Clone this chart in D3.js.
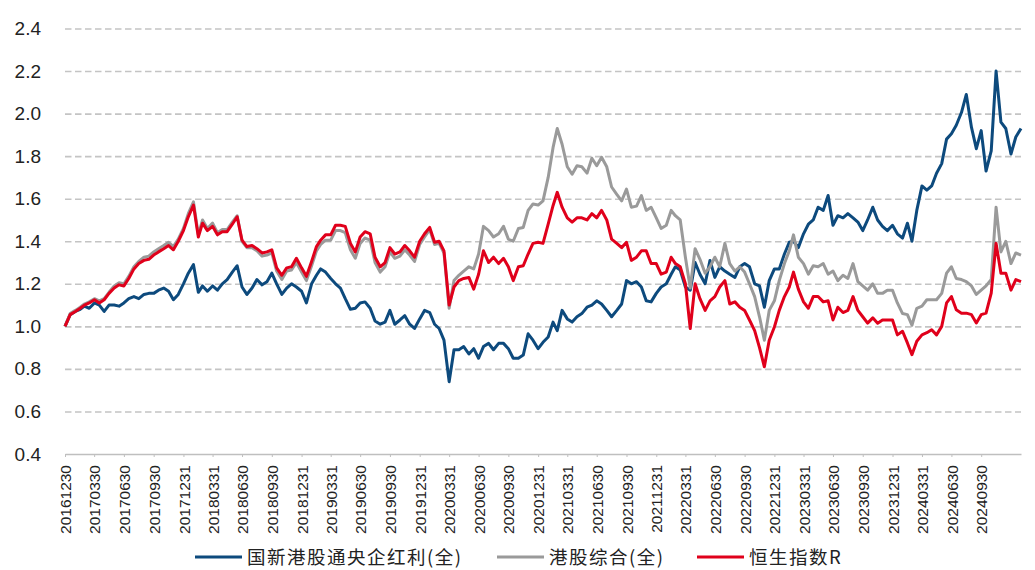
<!DOCTYPE html>
<html>
<head>
<meta charset="utf-8">
<script src="https://cdn.jsdelivr.net/npm/d3@7"></script>
<style>
body { margin: 0; background: #fff; }
svg { display: block; }
</style>
</head>
<body>
<div id="chart-area"></div>
<script>
// semi-monthly observation dates
var dates = ['20161230',
  '20170115','20170131','20170215','20170228','20170315','20170331','20170415','20170430','20170515','20170531','20170615','20170630',
  '20170715','20170731','20170815','20170831','20170915','20170930','20171015','20171031','20171115','20171130','20171215','20171231',
  '20180115','20180131','20180215','20180228','20180315','20180331','20180415','20180430','20180515','20180531','20180615','20180630',
  '20180715','20180731','20180815','20180831','20180915','20180930','20181015','20181031','20181115','20181130','20181215','20181231',
  '20190115','20190131','20190215','20190228','20190315','20190331','20190415','20190430','20190515','20190531','20190615','20190630',
  '20190715','20190731','20190815','20190831','20190915','20190930','20191015','20191031','20191115','20191130','20191215','20191231',
  '20200115','20200131','20200215','20200229','20200315','20200331','20200415','20200430','20200515','20200531','20200615','20200630',
  '20200715','20200731','20200815','20200831','20200915','20200930','20201015','20201031','20201115','20201130','20201215','20201231',
  '20210115','20210131','20210215','20210228','20210315','20210331','20210415','20210430','20210515','20210531','20210615','20210630',
  '20210715','20210731','20210815','20210831','20210915','20210930','20211015','20211031','20211115','20211130','20211215','20211231',
  '20220115','20220131','20220215','20220228','20220315','20220331','20220415','20220430','20220515','20220531','20220615','20220630',
  '20220715','20220731','20220815','20220831','20220915','20220930','20221015','20221031','20221115','20221130','20221215','20221231',
  '20230115','20230131','20230215','20230228','20230315','20230331','20230415','20230430','20230515','20230531','20230615','20230630',
  '20230715','20230731','20230815','20230831','20230915','20230930','20231015','20231031','20231115','20231130','20231215','20231231',
  '20240115','20240131','20240215','20240229','20240315','20240331','20240415','20240430','20240515','20240531','20240615','20240630',
  '20240715','20240731','20240815','20240831','20240915','20240930','20241015','20241031','20241115','20241130','20241215','20241231',
  '20250115','20250131'];

// 国新港股通央企红利(全)
var dividendSoe = [1.0,1.055,1.07,1.08,1.095,1.085,1.11,1.10,1.07,1.10,1.10,1.095,1.11,1.13,1.14,1.13,1.15,1.155,1.155,1.17,1.18,1.165,1.125,1.15,1.20,1.25,1.29,1.16,1.19,1.165,1.19,1.17,1.20,
  1.22,1.255,1.285,1.185,1.15,1.18,1.22,1.195,1.21,1.25,1.20,1.15,1.18,1.20,1.185,1.165,1.11,1.20,1.24,1.27,1.255,1.225,1.20,1.18,1.13,1.08,1.085,1.11,1.115,1.085,1.025,1.01,1.02,
  1.075,1.01,1.03,1.05,1.01,0.99,1.035,1.075,1.065,1.01,0.99,0.935,0.74,0.89,0.89,0.905,0.87,0.895,0.85,0.905,0.92,0.89,0.92,0.92,0.895,0.85,0.85,0.865,0.965,0.935,0.895,0.925,
  0.95,1.02,0.98,1.075,1.035,1.02,1.045,1.06,1.09,1.10,1.12,1.105,1.075,1.045,1.075,1.105,1.215,1.20,1.21,1.185,1.12,1.115,1.155,1.185,1.20,1.245,1.28,1.265,1.185,1.17,1.30,1.245,1.20,
  1.31,1.23,1.28,1.26,1.245,1.23,1.28,1.295,1.28,1.20,1.19,1.09,1.215,1.27,1.27,1.34,1.395,1.40,1.37,1.435,1.48,1.50,1.56,1.545,1.615,1.475,1.52,1.51,1.53,1.51,1.49,1.45,
  1.50,1.56,1.50,1.47,1.45,1.475,1.435,1.415,1.485,1.40,1.545,1.66,1.64,1.66,1.72,1.765,1.88,1.905,1.945,2.005,2.09,1.935,1.835,1.92,1.73,1.825,2.20,1.96,1.93,1.81,1.89,1.93];

// 港股综合(全)
var hkComposite = [1.00,1.06,1.075,1.09,1.105,1.115,1.13,1.12,1.13,1.16,1.19,1.205,1.20,1.235,1.28,1.305,1.325,1.33,1.35,1.365,1.38,1.395,1.375,1.41,1.46,1.53,1.585,1.43,1.50,1.46,1.485,1.44,1.455,
  1.455,1.49,1.52,1.40,1.37,1.37,1.355,1.33,1.335,1.345,1.26,1.22,1.26,1.265,1.30,1.255,1.215,1.285,1.355,1.385,1.405,1.405,1.45,1.45,1.44,1.36,1.32,1.39,1.415,1.405,1.30,1.255,1.28,
  1.35,1.32,1.33,1.36,1.335,1.305,1.385,1.42,1.455,1.385,1.39,1.345,1.085,1.215,1.24,1.26,1.28,1.27,1.34,1.47,1.45,1.42,1.435,1.47,1.41,1.40,1.46,1.465,1.545,1.575,1.57,1.59,
  1.70,1.84,1.93,1.856,1.75,1.715,1.755,1.75,1.72,1.79,1.755,1.795,1.75,1.655,1.62,1.59,1.645,1.56,1.565,1.615,1.545,1.56,1.51,1.46,1.475,1.545,1.52,1.50,1.325,1.18,1.365,1.315,1.25,
  1.28,1.325,1.28,1.39,1.295,1.26,1.28,1.255,1.20,1.14,1.045,0.935,1.075,1.12,1.215,1.295,1.355,1.43,1.325,1.295,1.245,1.285,1.28,1.295,1.245,1.26,1.215,1.24,1.225,1.295,1.21,1.19,
  1.17,1.20,1.155,1.155,1.17,1.17,1.11,1.06,1.055,1.005,1.085,1.095,1.125,1.125,1.125,1.155,1.25,1.28,1.225,1.22,1.21,1.19,1.15,1.17,1.19,1.22,1.56,1.35,1.40,1.295,1.345,1.335];

// 恒生指数R
var hangSeng = [1.00,1.055,1.07,1.085,1.10,1.11,1.125,1.11,1.125,1.155,1.18,1.195,1.19,1.225,1.27,1.295,1.31,1.315,1.335,1.35,1.365,1.38,1.36,1.40,1.45,1.515,1.57,1.42,1.485,1.45,1.47,1.43,1.445,
  1.445,1.48,1.515,1.405,1.375,1.38,1.365,1.345,1.35,1.36,1.275,1.24,1.275,1.28,1.32,1.275,1.235,1.305,1.375,1.405,1.43,1.43,1.475,1.475,1.47,1.39,1.35,1.42,1.445,1.435,1.325,1.28,1.30,
  1.37,1.34,1.35,1.38,1.355,1.325,1.40,1.435,1.465,1.395,1.40,1.355,1.10,1.185,1.215,1.225,1.23,1.175,1.245,1.355,1.30,1.325,1.295,1.32,1.28,1.215,1.28,1.285,1.34,1.39,1.395,1.39,
  1.48,1.567,1.63,1.56,1.51,1.49,1.51,1.51,1.50,1.53,1.51,1.545,1.50,1.41,1.39,1.37,1.395,1.31,1.325,1.355,1.355,1.295,1.295,1.245,1.255,1.325,1.295,1.28,1.20,0.99,1.20,1.13,1.075,
  1.12,1.14,1.185,1.215,1.105,1.115,1.09,1.075,1.03,0.98,0.90,0.81,0.935,0.997,1.075,1.14,1.185,1.255,1.175,1.115,1.085,1.14,1.14,1.115,1.12,1.03,1.09,1.065,1.075,1.14,1.075,1.045,
  1.015,1.04,1.015,1.03,1.03,1.03,0.96,0.977,0.922,0.867,0.93,0.96,0.97,0.984,0.96,1.0,1.11,1.14,1.078,1.062,1.062,1.055,1.016,1.055,1.062,1.156,1.39,1.25,1.25,1.17,1.22,1.21];

var tickLabels = ['20161230','20170330','20170630','20170930','20171231','20180331','20180630','20180930',
  '20181231','20190331','20190630','20190930','20191231','20200331','20200630','20200930',
  '20201231','20210331','20210630','20210930','20211231','20220331','20220630','20220930',
  '20221231','20230331','20230630','20230930','20231231','20240331','20240630','20240930'];

var yTicks = [0.4, 0.6, 0.8, 1.0, 1.2, 1.4, 1.6, 1.8, 2.0, 2.2, 2.4];

var seriesNames = ['国新港股通央企红利(全)', '港股综合(全)', '恒生指数R'];
var seriesColors = ['#0d4a7d', '#9a9a9a', '#e0001b'];
var seriesValues = [dividendSoe, hkComposite, hangSeng];

var width = 1035, height = 570;
var parse = d3.utcParse('%Y%m%d');

var svg = d3.select('#chart-area').append('svg')
  .attr('width', width)
  .attr('height', height);

var x = d3.scaleUtc()
  .domain([parse(dates[0]), parse(dates[dates.length - 1])])
  .range([65, 1021]);

var y = d3.scaleLinear()
  .domain([0.4, 2.4])
  .range([454, 28.5]);

// dashed gridlines drawn with the axis generator
var grid = d3.axisLeft(y)
  .tickValues(yTicks.slice(1))
  .tickSize(-(1021 - 65))
  .tickFormat('');
var gg = svg.append('g').attr('transform', 'translate(65,0)').call(grid);
gg.select('.domain').remove();
gg.selectAll('.tick line')
  .style('stroke', '#c4c4c4')
  .style('stroke-width', '1.6px')
  .style('stroke-dasharray', '6.5 3.5');

// y axis labels
var yAxis = d3.axisLeft(y).tickValues(yTicks).tickFormat(d3.format('.1f')).tickSize(0).tickPadding(0);
var gy = svg.append('g').attr('transform', 'translate(41,0)').call(yAxis);
gy.select('.domain').remove();
gy.selectAll('text')
  .attr('font-family', 'Liberation Sans, Arial, sans-serif')
  .attr('font-size', 19)
  .attr('fill', '#222');

// x axis
var xAxis = d3.axisBottom(x)
  .tickValues(tickLabels.map(parse))
  .tickFormat(d3.utcFormat('%Y%m%d'))
  .tickSize(3)
  .tickSizeOuter(0);
var gx = svg.append('g').attr('transform', 'translate(0,454)').call(xAxis);
gx.select('.domain').attr('stroke', '#bfbfbf').attr('stroke-width', 1.5);
gx.selectAll('.tick line').attr('stroke', '#bfbfbf');
gx.selectAll('text')
  .attr('font-family', 'Liberation Sans, Arial, sans-serif')
  .attr('font-size', 15.5)
  .attr('fill', '#222')
  .attr('text-anchor', 'end')
  .attr('transform', 'translate(0,11) rotate(-90)')
  .attr('x', 0).attr('y', 0)
  .attr('dy', '0.36em');

// series lines
var line = d3.line()
  .x(function(d) { return x(d.date); })
  .y(function(d) { return y(d.value); });

seriesValues.forEach(function(vals, k) {
  var pts = vals.map(function(v, i) { return { date: parse(dates[i]), value: v }; });
  svg.append('path')
    .datum(pts)
    .attr('d', line)
    .attr('fill', 'none')
    .attr('stroke', seriesColors[k])
    .attr('stroke-width', 3)
    .attr('stroke-linejoin', 'round');
});

// legend
var legendX = [195, 497, 697];
var legend = svg.append('g');
seriesNames.forEach(function(name, k) {
  legend.append('line')
    .attr('x1', legendX[k]).attr('x2', legendX[k] + 47)
    .attr('y1', 557).attr('y2', 557)
    .attr('stroke', seriesColors[k])
    .attr('stroke-width', 3);
  legend.append('text')
    .attr('x', legendX[k] + 52).attr('y', 558)
    .attr('dy', '0.35em')
    .attr('font-family', 'Noto Sans CJK SC, sans-serif')
    .attr('font-size', 18.5)
    .attr('letter-spacing', 1.5)
    .attr('fill', '#222')
    .text(name);
});
</script>
</body>
</html>
